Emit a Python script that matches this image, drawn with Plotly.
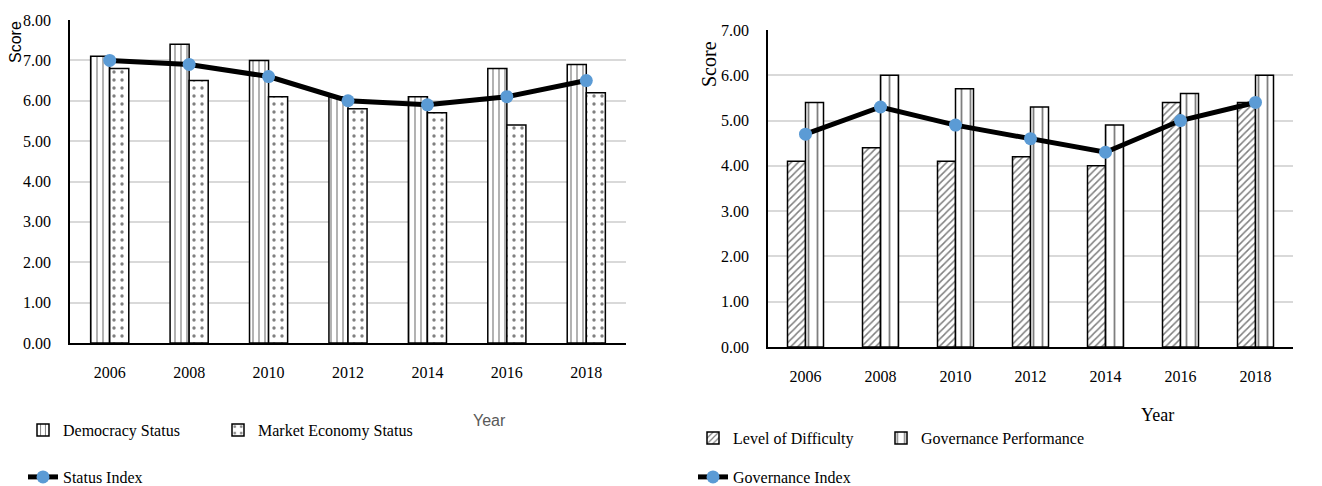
import plotly.graph_objects as go

years = ["2006", "2008", "2010", "2012", "2014", "2016", "2018"]
democracy = [7.1, 7.4, 7.0, 6.1, 6.1, 6.8, 6.9]
market = [6.8, 6.5, 6.1, 5.8, 5.7, 5.4, 6.2]
status_index = [7.0, 6.9, 6.6, 6.0, 5.9, 6.1, 6.5]

difficulty = [4.1, 4.4, 4.1, 4.2, 4.0, 5.4, 5.4]
gov_perf = [5.4, 6.0, 5.7, 5.3, 4.9, 5.6, 6.0]
gov_index = [4.7, 5.3, 4.9, 4.6, 4.3, 5.0, 5.4]

# page body has an 8px default margin; figure is sized to fill the rest of the window
OFF = 8
W, H = 1322 - OFF, 486 - OFF


def px(x):
    return (x - OFF) / W


def py(y):
    return 1 - (y - OFF) / H


SERIF = "Liberation Serif"
SANS = "Liberation Sans"
BLUE = "#5B9BD5"

fig = go.Figure()

bar_line = dict(color="black", width=1.5)

fig.add_trace(go.Bar(x=years, y=democracy, name="Democracy Status", xaxis="x", yaxis="y",
                     marker=dict(color="white", line=bar_line,
                                 pattern=dict(shape="|", fgcolor="black", bgcolor="white", size=6, solidity=0.2)),
                     legend="legend"))
fig.add_trace(go.Bar(x=years, y=market, name="Market Economy Status", xaxis="x", yaxis="y",
                     marker=dict(color="white", line=bar_line,
                                 pattern=dict(shape=".", fgcolor="black", bgcolor="white", size=8, solidity=0.14)),
                     legend="legend2"))
fig.add_trace(go.Scatter(x=years, y=status_index, name="Status Index", xaxis="x", yaxis="y",
                         mode="lines+markers", line=dict(color="black", width=5),
                         marker=dict(color=BLUE, size=13), legend="legend3"))

fig.add_trace(go.Bar(x=years, y=difficulty, name="Level of Difficulty", xaxis="x2", yaxis="y2",
                     marker=dict(color="white", line=bar_line,
                                 pattern=dict(shape="/", fgcolor="black", bgcolor="white", size=5, solidity=0.3)),
                     legend="legend4"))
fig.add_trace(go.Bar(x=years, y=gov_perf, name="Governance Performance", xaxis="x2", yaxis="y2",
                     marker=dict(color="white", line=bar_line,
                                 pattern=dict(shape="|", fgcolor="black", bgcolor="white", size=9, solidity=0.2)),
                     legend="legend5"))
fig.add_trace(go.Scatter(x=years, y=gov_index, name="Governance Index", xaxis="x2", yaxis="y2",
                         mode="lines+markers", line=dict(color="black", width=5),
                         marker=dict(color=BLUE, size=13), legend="legend6"))

tickfont = dict(family=SERIF, size=16, color="black")
grid = "#d9d9d9"


def xax(domain, anchor):
    return dict(domain=domain, anchor=anchor, type="category", showline=True, linecolor="black",
                linewidth=1.5, showgrid=False, ticks="", tickfont=tickfont, ticklabelstandoff=14)


def yax(domain, anchor, rng):
    return dict(domain=domain, anchor=anchor, range=rng, dtick=1, tickformat=".2f", showline=True,
                linecolor="black", linewidth=1.5, showgrid=True, gridcolor=grid, gridwidth=1.5,
                zeroline=False, ticks="", tickfont=tickfont, ticklabelstandoff=14)


legend_common = dict(orientation="h", font=dict(family=SERIF, size=16, color="black"),
                     bgcolor="rgba(0,0,0,0)", xanchor="left", yanchor="middle", itemwidth=30)


def leg(x_text, y):
    return dict(legend_common, x=px(x_text - 40), y=py(y))


def note(text, x, y, font, angle=0):
    return dict(text=text, x=px(x), y=py(y), xref="paper", yref="paper", showarrow=False,
                xanchor="center", yanchor="middle", textangle=angle, font=font)


fig.update_layout(
    width=W, height=H,
    margin=dict(l=0, r=0, t=0, b=0, autoexpand=False),
    paper_bgcolor="white", plot_bgcolor="white",
    barmode="group", bargap=0.52, bargroupgap=0,
    xaxis=xax([px(70), px(626)], "y"),
    yaxis=yax([py(343), py(20)], "x", [0, 8]),
    xaxis2=xax([px(768), px(1293)], "y2"),
    yaxis2=yax([py(347), py(30)], "x2", [0, 7]),
    legend=leg(63, 430),
    legend2=leg(258, 430),
    legend3=leg(63, 477),
    legend4=leg(733, 438),
    legend5=leg(921, 438),
    legend6=leg(733, 477),
    showlegend=True,
    annotations=[
        note("Score", 15, 42, dict(family=SANS, size=16, color="black"), -90),
        note("Score", 709, 64, dict(family=SERIF, size=20, color="black"), -90),
        note("Year", 489, 420, dict(family=SANS, size=16, color="#595959")),
        note("Year", 1157, 415, dict(family=SERIF, size=18, color="black")),
    ],
)

fig.write_html("out.html")
